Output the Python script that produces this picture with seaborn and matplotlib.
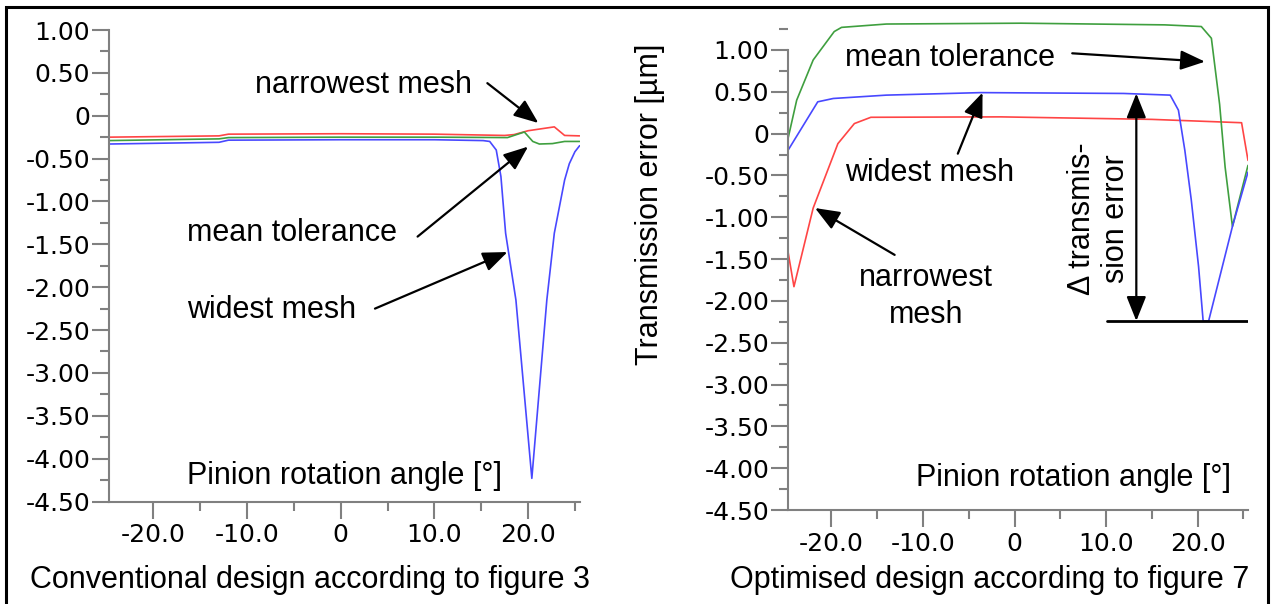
import numpy as np
import pandas as pd
import matplotlib
matplotlib.use('Agg')
import matplotlib.pyplot as plt
import seaborn as sns
from matplotlib.patches import Rectangle
from matplotlib.ticker import MultipleLocator

# ==========================================================
# DATA
# ==========================================================

# conventional design (left panel)
conv_narrow_x = [-24.75, -13, -12, 0, 10, 17.5, 18.5, 20.0, 22.8, 23.9, 25.5]
conv_narrow_y = [-0.25, -0.235, -0.215, -0.21, -0.215, -0.23, -0.22, -0.175, -0.13, -0.23, -0.235]

conv_mean_x = [-24.75, -13, -12, 0, 10, 17.8, 19.6, 20.5, 21.2, 22.6, 23.9, 25.5]
conv_mean_y = [-0.29, -0.27, -0.255, -0.25, -0.25, -0.255, -0.19, -0.30, -0.33, -0.325, -0.30, -0.30]

conv_wide_x = [-24.75, -13, -12, 0, 10, 15.2, 15.9, 16.6, 17.1, 17.6, 18.7, 20.4,
               22.0, 22.8, 23.9, 24.4, 25.0, 25.5]
conv_wide_y = [-0.33, -0.31, -0.285, -0.28, -0.28, -0.29, -0.30, -0.40, -0.71, -1.37, -2.15, -4.23,
               -2.15, -1.37, -0.75, -0.56, -0.42, -0.35]

# optimised design (right panel)
opt_narrow_x = [-24.75, -24.1, -22.0, -19.3, -17.5, -15.7, -1.5, 15, 24.8, 25.5]
opt_narrow_y = [-1.41, -1.83, -0.89, -0.12, 0.12, 0.195, 0.20, 0.17, 0.13, -0.32]

opt_mean_x = [-24.75, -23.8, -22.0, -19.7, -18.9, -14.0, 0.7, 16.4, 20.4, 21.5, 22.4, 23.0, 23.8, 25.5]
opt_mean_y = [-0.06, 0.40, 0.88, 1.22, 1.27, 1.31, 1.32, 1.30, 1.28, 1.14, 0.35, -0.40, -1.11, -0.38]

opt_wide_x = [-24.75, -21.5, -19.8, -14.0, -3.7, 11.9, 17.0, 17.9, 18.6, 19.3, 20.1, 20.6,
              21.2, 23.8, 25.5]
opt_wide_y = [-0.20, 0.38, 0.42, 0.46, 0.49, 0.48, 0.46, 0.28, -0.20, -0.79, -1.59, -2.24,
              -2.24, -1.11, -0.46]

delta_top = 0.48
delta_bottom = -2.24

x_ticks = [-20, -10, 0, 10, 20]
x_tick_labels = ["-20.0", "-10.0", "0", "10.0", "20.0"]
y_ticks = [1.0, 0.5, 0.0, -0.5, -1.0, -1.5, -2.0, -2.5, -3.0, -3.5, -4.0, -4.5]
y_tick_labels = ["1.00", "0.50", "0", "-0.50", "-1.00", "-1.50", "-2.00",
                 "-2.50", "-3.00", "-3.50", "-4.00", "-4.50"]

MESH_COLORS = {"narrowest": "#ff4545", "mean": "#3f9f3f", "widest": "#4848ff"}
TEXT_FONT = ["Liberation Sans", "DejaVu Sans"]
TEXT_SIZE = 22
GRAY = "#808080"


def to_long(series):
    frames = []
    for name, (xs, ys) in series.items():
        frames.append(pd.DataFrame({"angle": xs, "error": ys, "mesh": name}))
    return pd.concat(frames, ignore_index=True)


def style_axis(ax, ytop):
    ax.set_xlim(-24.75, 25.5)
    ax.set_ylim(-4.5, ytop)
    ax.set_xticks(x_ticks, x_tick_labels)
    ax.set_yticks(y_ticks, y_tick_labels)
    ax.xaxis.set_minor_locator(MultipleLocator(5))
    ax.yaxis.set_minor_locator(MultipleLocator(0.25))
    ax.tick_params(which="major", length=12.5, width=1.5, color=GRAY,
                   labelsize=18, labelcolor="black")
    ax.tick_params(which="minor", length=6.5, width=1.5, color=GRAY)
    ax.tick_params(axis="y", which="major", pad=1)
    ax.tick_params(axis="x", which="major", pad=3)
    sns.despine(ax=ax)
    for side in ["left", "bottom"]:
        ax.spines[side].set_color(GRAY)
        ax.spines[side].set_linewidth(1.5)
    ax.spines["left"].set_bounds(-4.5, 1.0)
    ax.set_xlabel("")
    ax.set_ylabel("")
    ax.patch.set_alpha(0)


def arrow(ax, tail, head, style="-|>,head_length=0.75,head_width=0.3"):
    ax.annotate("", xy=head, xytext=tail,
                arrowprops=dict(arrowstyle=style, color="black", lw=1.6,
                                mutation_scale=20, shrinkA=0, shrinkB=0))


def label(ax, x, y, s, **kw):
    ax.text(x, y, s, fontsize=TEXT_SIZE, family=TEXT_FONT, color="black",
            va="center", **kw)


# ==========================================================
# PLOT
# ==========================================================

sns.set_style("ticks")
plt.rcParams["font.family"] = ["DejaVu Sans"]
plt.rcParams["text.color"] = "black"

fig = plt.figure(figsize=(12.72, 6.04), dpi=100)
ax1 = fig.add_axes([109 / 1272, 1 - 501.5 / 604, (579.6 - 109) / 1272, (501.5 - 30) / 604])
ax2 = fig.add_axes([788 / 1272, 1 - 510 / 604, (1248 - 788) / 1272, (510 - 16.5) / 604])

conv = to_long({"narrowest": (conv_narrow_x, conv_narrow_y),
                "mean": (conv_mean_x, conv_mean_y),
                "widest": (conv_wide_x, conv_wide_y)})
opt = to_long({"narrowest": (opt_narrow_x, opt_narrow_y),
               "mean": (opt_mean_x, opt_mean_y),
               "widest": (opt_wide_x, opt_wide_y)})

for ax, df in [(ax1, conv), (ax2, opt)]:
    sns.lineplot(data=df, x="angle", y="error", hue="mesh", palette=MESH_COLORS,
                 estimator=None, sort=True, lw=1.2, legend=False, ax=ax)

style_axis(ax1, 1.0)
style_axis(ax2, 1.4)

# left panel annotations
label(ax1, -9.2, 0.36, "narrowest mesh")
arrow(ax1, (15.65, 0.38), (21.1, -0.085))
label(ax1, -16.4, -1.37, "mean tolerance")
arrow(ax1, (8.2, -1.41), (20.0, -0.36))
label(ax1, -16.4, -2.27, "widest mesh")
arrow(ax1, (3.65, -2.25), (17.8, -1.59))
label(ax1, -16.4, -4.20, "Pinion rotation angle [°]")

# right panel annotations
label(ax2, -18.5, 0.90, "mean tolerance")
arrow(ax2, (6.3, 0.96), (20.8, 0.86))
label(ax2, -18.5, -0.47, "widest mesh")
arrow(ax2, (-6.2, -0.24), (-3.5, 0.49))
label(ax2, -9.7, -1.95, "narrowest\nmesh", ha="center", linespacing=1.3)
arrow(ax2, (-13.1, -1.45), (-21.8, -0.89))
label(ax2, 9.2, -1.02, "Δ transmis-\nsion error", ha="center", rotation=90,
      linespacing=1.15)
arrow(ax2, (13.3, delta_bottom), (13.3, delta_top),
      style="<|-|>,head_length=0.75,head_width=0.3")
ax2.plot([10.1, 25.5], [delta_bottom, delta_bottom], color="black", lw=2)
label(ax2, -10.8, -4.12, "Pinion rotation angle [°]")

fig.text(650 / 1272, 1 - 204 / 604, "Transmission error [µm]", rotation=90,
         fontsize=TEXT_SIZE, family=TEXT_FONT, ha="center", va="center")

fig.text(310.5 / 1272, 1 - 580 / 604, "Conventional design according to figure 3",
         fontsize=TEXT_SIZE, family=TEXT_FONT, ha="center", va="center")
fig.text(989.5 / 1272, 1 - 580 / 604, "Optimised design according to figure 7",
         fontsize=TEXT_SIZE, family=TEXT_FONT, ha="center", va="center")

# outer frame
fig.add_artist(Rectangle((6 / 1272, -0.02), (1268 - 6) / 1272, 1.02 - 7 / 604,
                         transform=fig.transFigure, fill=False, ec="black", lw=2.2))

plt.savefig("out.png", dpi=100)
plt.close()
